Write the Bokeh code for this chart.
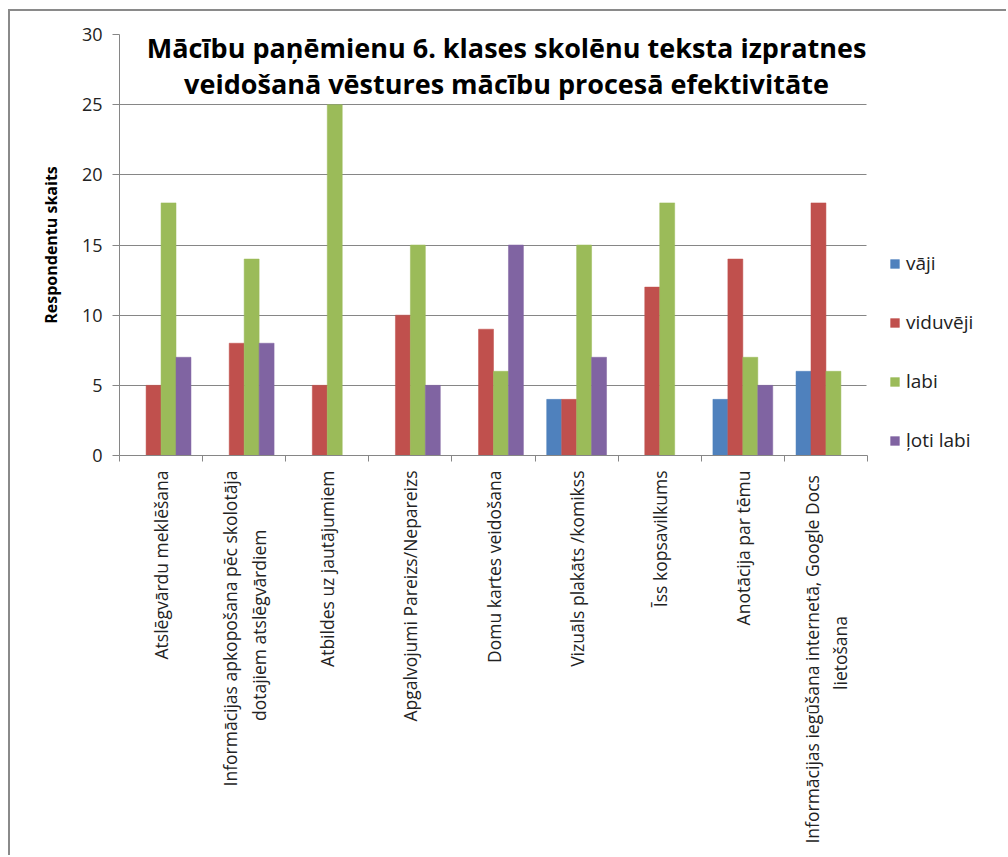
import math
from bokeh.plotting import figure
from bokeh.models import Range1d, FixedTicker, Legend, LegendItem, Label
from bokeh.embed import file_html
from bokeh.resources import INLINE

NB = "\u00a0"
categories = [
    "Atslēgvārdu meklēšana",
    "Informācijas apkopošana pēc skolotāja\ndotajiem atslēgvārdiem" + NB * 13,
    "Atbildes uz jautājumiem",
    "Apgalvojumi Pareizs/Nepareizs",
    "Domu kartes veidošana",
    "Vizuāls plakāts /komikss",
    "Īss kopsavilkums",
    "Anotācija par tēmu",
    "Informācijas iegūšana internetā,  Google Docs\nlietošana" + NB * 32,
]
series_names = ["vāji", "viduvēji", "labi", "ļoti labi"]
vaji = [0, 0, 0, 0, 0, 4, 0, 4, 6]
viduveji = [5, 8, 5, 10, 9, 4, 12, 14, 18]
labi = [18, 14, 25, 15, 6, 15, 18, 7, 6]
loti_labi = [7, 8, 0, 5, 15, 7, 0, 5, 0]
y_ticks = [0, 5, 10, 15, 20, 25, 30]
title_lines = [
    "Mācību paņēmienu 6. klases skolēnu teksta izpratnes",
    "veidošanā vēstures mācību procesā efektivitāte",
]
y_label = "Respondentu skaits"

colors = ["#4F81BD", "#C0504D", "#9BBB59", "#8064A2"]
series = [vaji, viduveji, labi, loti_labi]

FONT = "Open Sans"
GRAY = "#868686"

n = len(categories)
FIG_W, FIG_H = 998, 846
LEFT, TOP, BOTTOM = 109, 23, 402
CAT_W = 748                      # pixel width of the category area
frame_w = FIG_W - LEFT           # frame extends to the right edge (legend lives there)
x_end = n * frame_w / CAT_W
y_max = y_ticks[-1]

p = figure(width=FIG_W, height=FIG_H, output_backend="svg", toolbar_location=None,
           x_range=Range1d(0, x_end), y_range=Range1d(0, y_max),
           min_border_left=LEFT, min_border_right=0, min_border_top=TOP,
           min_border_bottom=BOTTOM)
p.styles = {"border-left": "2px solid #8a8a8a", "border-top": "2px solid #8a8a8a",
            "margin-left": "8px", "margin-top": "9px"}
p.outline_line_color = None
p.background_fill_color = "white"
p.border_fill_color = "white"

# white cover hiding the grid to the right of the category area (legend zone)
p.quad(left=n, right=x_end, bottom=0, top=y_max, fill_color="white",
       line_color="white", line_width=2)

bar_w = 0.18
centers = [i + 0.5 for i in range(n)]
renderers = []
for k, (vals, col) in enumerate(zip(series, colors)):
    off = (k - 1.5) * bar_w
    r = p.vbar(x=[c + off for c in centers], top=vals, width=bar_w, bottom=0,
               fill_color=col, line_color=col, line_width=0.5)
    renderers.append(r)

# grid and axes
p.xgrid.grid_line_color = None
p.ygrid.grid_line_color = GRAY
p.ygrid.ticker = FixedTicker(ticks=y_ticks)

yax = p.yaxis[0]
yax.ticker = FixedTicker(ticks=y_ticks)
yax.axis_line_color = GRAY
yax.major_tick_line_color = GRAY
yax.major_tick_out = 7
yax.major_tick_in = 0
yax.minor_tick_line_color = None
yax.major_label_text_font = FONT
yax.major_label_text_font_size = "18px"
yax.major_label_text_color = "#222222"
yax.major_label_standoff = 10
yax.axis_label = y_label
yax.axis_label_text_font = FONT
yax.axis_label_text_font_size = "16px"
yax.axis_label_text_font_style = "bold"
yax.axis_label_text_color = "#000000"
yax.axis_label_standoff = 17

xax = p.xaxis[0]
xax.bounds = (0, n)
xax.ticker = FixedTicker(ticks=centers, minor_ticks=list(range(n + 1)))
xax.major_label_overrides = {c: lab for c, lab in zip(centers, categories)}
xax.major_label_orientation = math.pi / 2
xax.axis_line_color = GRAY
xax.major_tick_line_color = None
xax.major_tick_out = 0
xax.major_tick_in = 0
xax.minor_tick_line_color = GRAY
xax.minor_tick_out = 6
xax.minor_tick_in = 0
xax.major_label_text_font = FONT
xax.major_label_text_font_size = "17.5px"
xax.major_label_text_color = "#222222"
xax.major_label_standoff = 9
xax.axis_label_standoff = 0

# title as two centred lines drawn over the plot area
for txt, yy in zip(title_lines, [408, 372]):
    p.add_layout(Label(x=387, y=yy, x_units="screen", y_units="screen", text=txt,
                       text_align="center", text_baseline="middle",
                       text_font=FONT, text_font_style="bold",
                       text_font_size="27px", text_color="#000000"))

legend = Legend(items=[LegendItem(label=s, renderers=[r]) for s, r in zip(series_names, renderers)],
                location=(770, 2))
legend.border_line_color = None
legend.background_fill_alpha = 0
legend.padding = 0
legend.margin = 0
legend.glyph_width = 11
legend.glyph_height = 11
legend.label_height = 20
legend.spacing = 33
legend.label_standoff = 6
legend.label_text_font = FONT
legend.label_text_font_size = "19px"
legend.label_text_color = "#222222"
p.add_layout(legend, "center")

open("out.html", "w").write(file_html(p, INLINE))
